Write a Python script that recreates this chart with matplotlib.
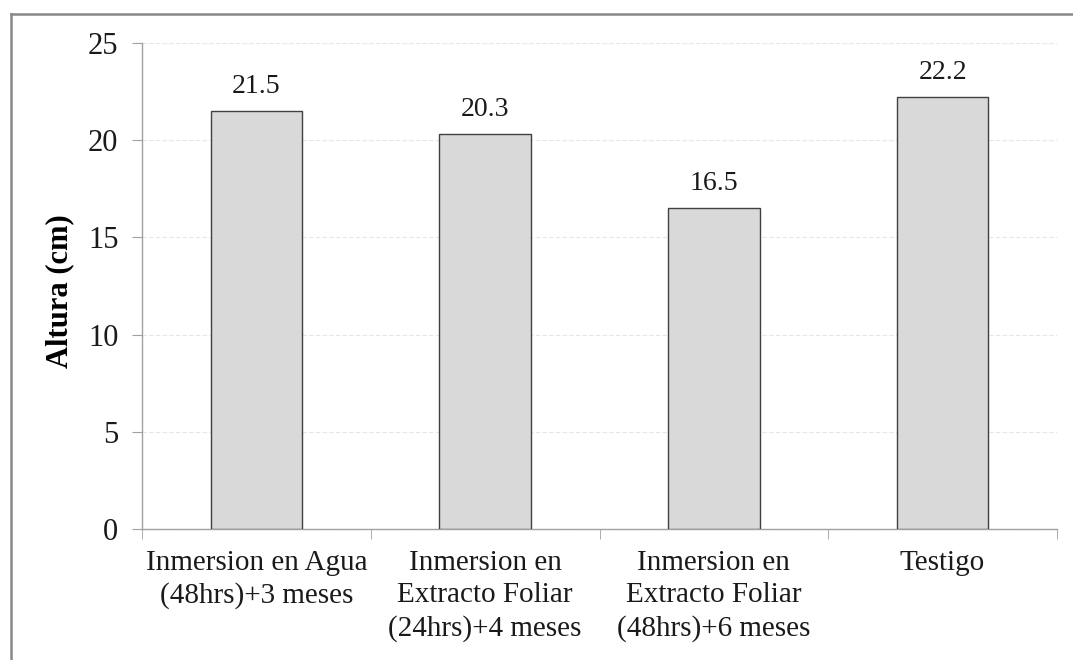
import matplotlib.pyplot as plt
from matplotlib.lines import Line2D

categorias = ['Inmersion en Agua\n(48hrs)+3 meses',
              'Inmersion en\nExtracto Foliar\n(24hrs)+4 meses',
              'Inmersion en\nExtracto Foliar\n(48hrs)+6 meses',
              'Testigo']
altura = [21.5, 20.3, 16.5, 22.2]
yticks = [0, 5, 10, 15, 20, 25]

plt.rcParams['font.family'] = ['Liberation Serif', 'DejaVu Serif']

fig = plt.figure(figsize=(10.73, 6.6), dpi=100)
ax = fig.add_axes([142 / 1073, 1 - 529 / 660, (1057 - 142) / 1073, (529 - 43) / 660])

x = list(range(len(categorias)))
ax.bar(x, altura, width=0.4, color='#d9d9d9', edgecolor='#404040', linewidth=1.0, zorder=3)
for xi, v in zip(x, altura):
    ax.annotate(f'{v:.1f}', (xi, v), xytext=(0, 9), textcoords='offset points',
                ha='center', va='bottom', fontsize=20, color='#1a1a1a')

ax.set_xlim(-0.5, len(categorias) - 0.5)
ax.set_ylim(0, 25)
ax.set_yticks(yticks)
ax.set_xticks(x)
ax.set_xticklabels(categorias, fontsize=21, linespacing=1.32, color='#1a1a1a')
ax.set_xticks([i - 0.5 for i in range(len(categorias) + 1)], minor=True)
ax.tick_params(axis='x', which='major', length=0, pad=15)
ax.tick_params(axis='x', which='minor', length=7, color='#a0a0a0', direction='out')
ax.tick_params(axis='y', length=7, color='#a0a0a0', labelsize=22, pad=10, labelcolor='#1a1a1a')

ax.set_ylabel('Altura (cm)', fontsize=22, fontweight='bold')
ax.yaxis.set_label_coords(-0.074, 0.49)
ax.yaxis.grid(True, color='#e6e6e6', linestyle=(0, (4, 2)), linewidth=0.8, zorder=0)
ax.set_axisbelow(True)

for s in ['top', 'right']:
    ax.spines[s].set_visible(False)
for s in ['left', 'bottom']:
    ax.spines[s].set_color('#a0a0a0')
    ax.spines[s].set_linewidth(1.0)

# marco exterior (solo se ven borde superior e izquierdo)
fig.add_artist(Line2D([10.5 / 1073, 10.5 / 1073], [0, 1 - 13.5 / 660], color='#888888',
                      linewidth=1.8, transform=fig.transFigure))
fig.add_artist(Line2D([10.5 / 1073, 1], [1 - 13.5 / 660, 1 - 13.5 / 660], color='#888888',
                      linewidth=1.8, transform=fig.transFigure))

fig.savefig('out.png', dpi=100)
